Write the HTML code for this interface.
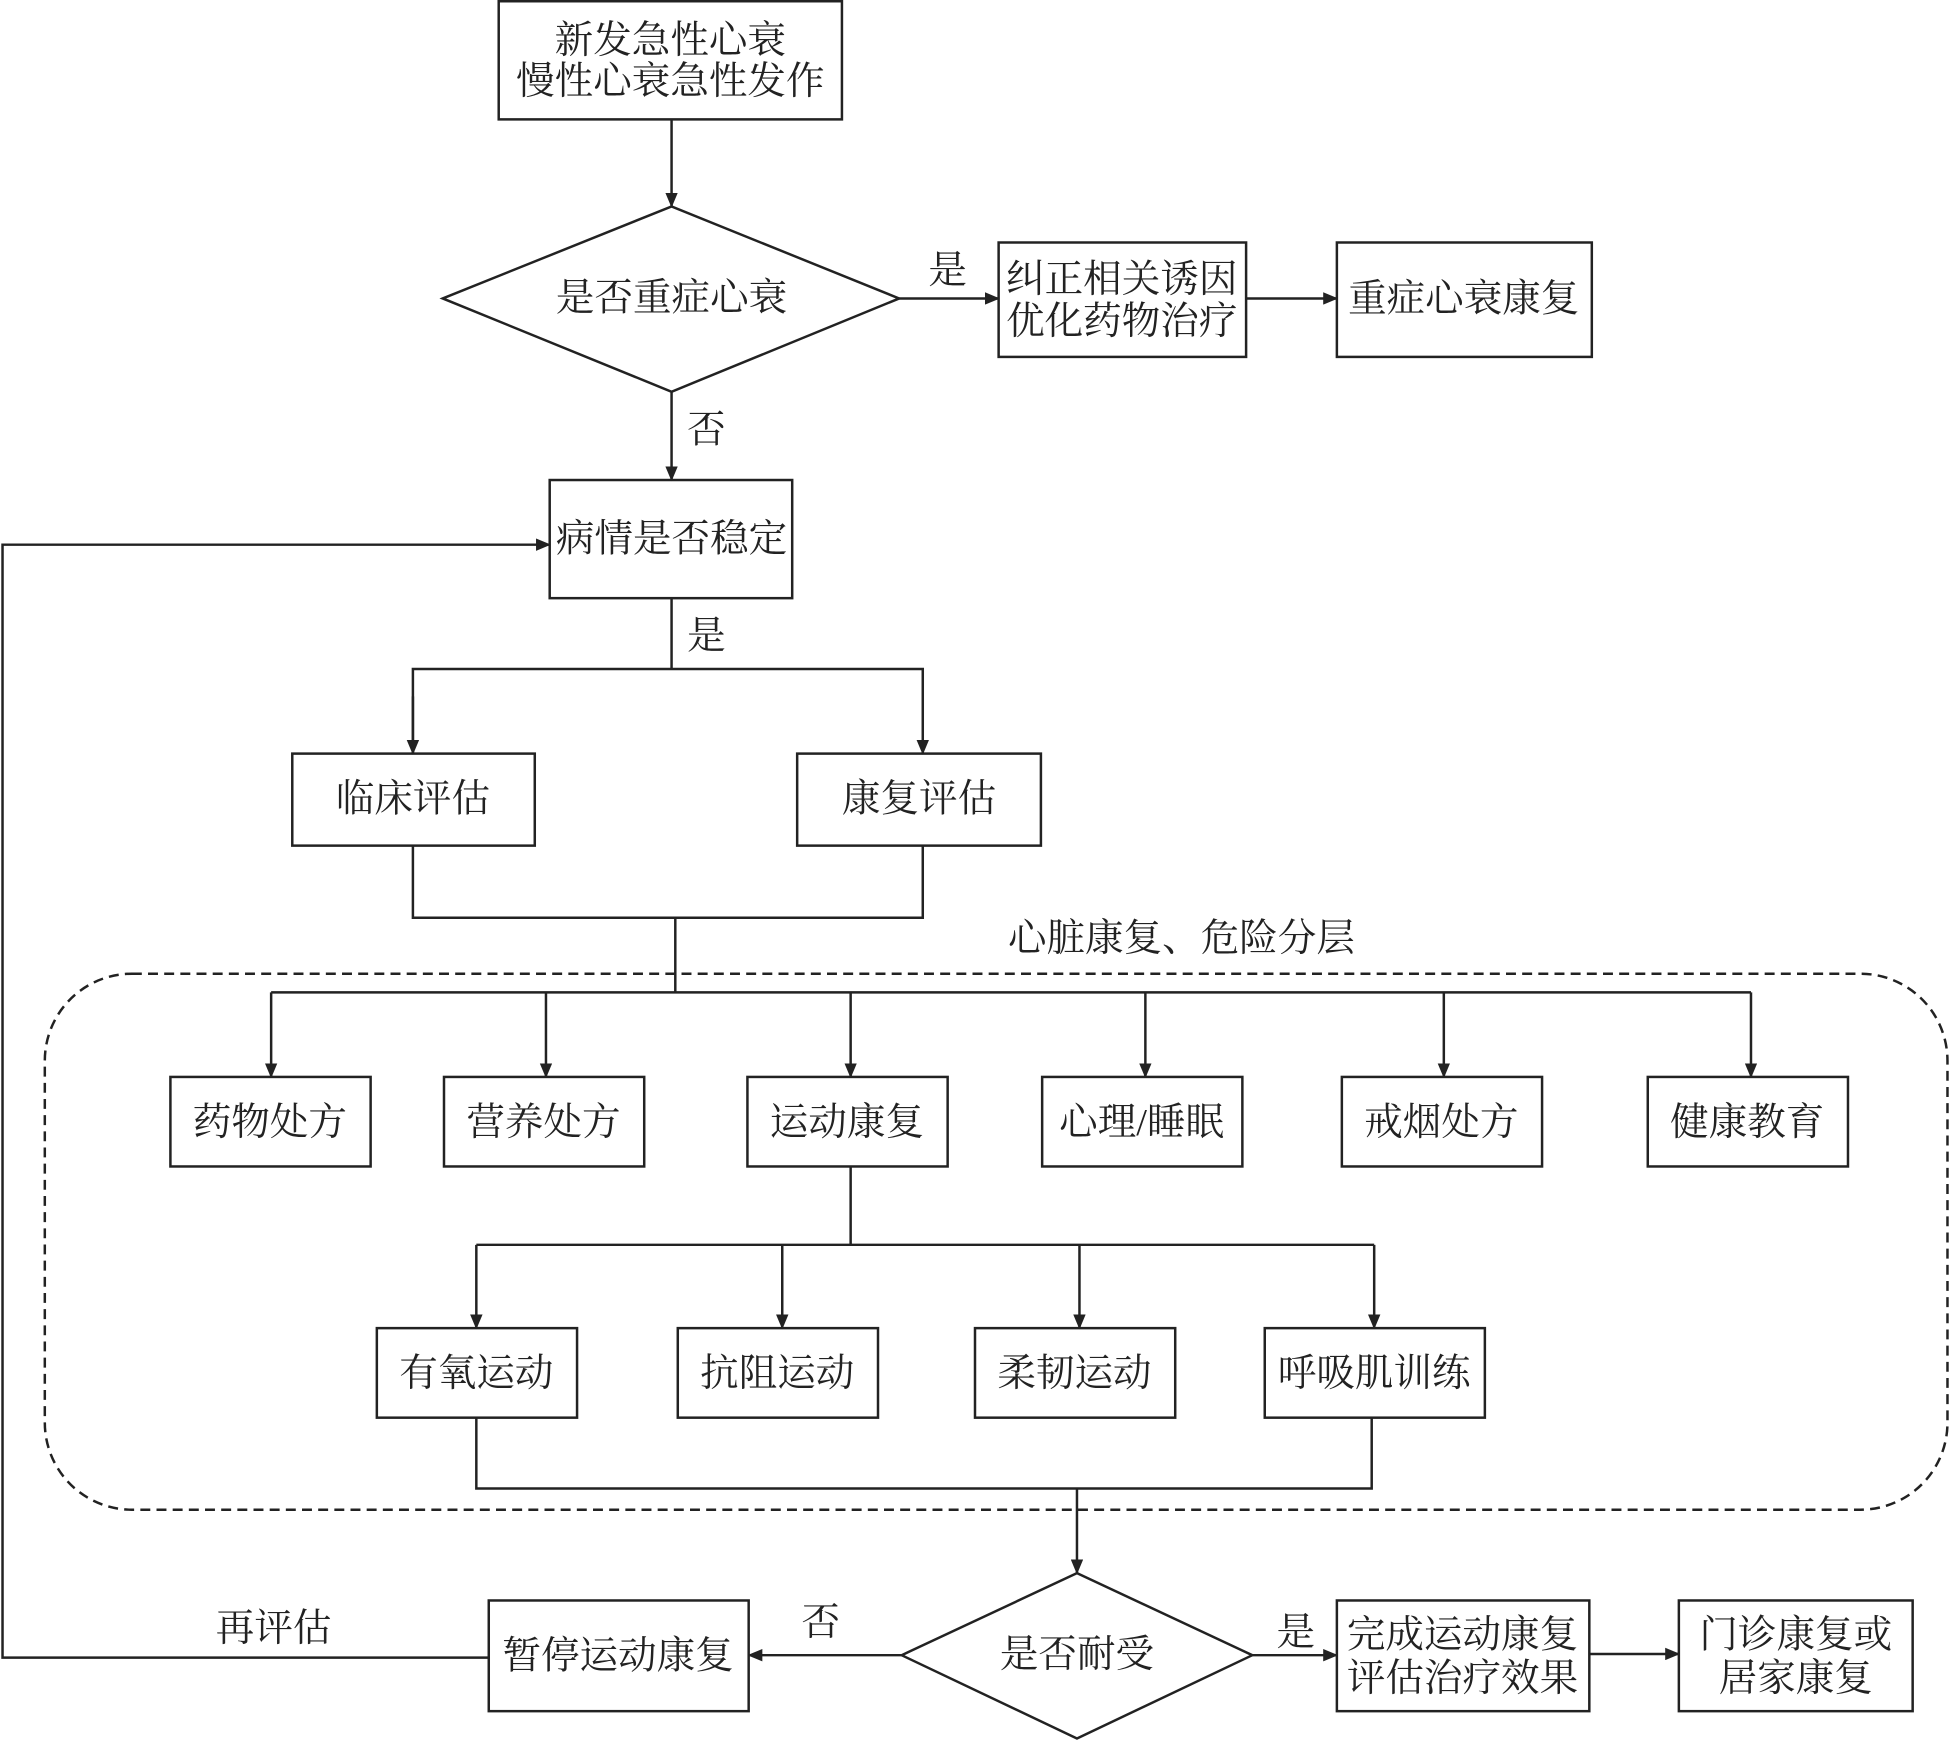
<!DOCTYPE html>
<html><head><meta charset="utf-8"><style>
html,body{margin:0;padding:0;background:#fff;}
svg{display:block;}
text{font-family:"Liberation Serif","Noto Serif CJK SC",serif;font-size:31px;fill:#222;text-anchor:middle;dominant-baseline:central;}
</style></head><body>
<svg width="1950" height="1741" viewBox="0 0 1568 1400" xmlns="http://www.w3.org/2000/svg">
<defs><marker id="a" markerWidth="12" markerHeight="10" refX="11" refY="5" orient="auto" markerUnits="userSpaceOnUse"><path d="M0,0 L12,5 L0,10 z" fill="#222"/></marker></defs>
<g fill="none" stroke="#222" stroke-width="2">
<rect x="401" y="1" width="276" height="95"/>
<line x1="540" y1="96" x2="540" y2="166" marker-end="url(#a)"/>
<polygon points="356,240 540,166 723,240 540,315"/>
<line x1="723" y1="240" x2="803" y2="240" marker-end="url(#a)"/>
<rect x="803" y="195" width="199" height="92"/>
<line x1="1002" y1="240" x2="1075" y2="240" marker-end="url(#a)"/>
<rect x="1075" y="195" width="205" height="92"/>
<line x1="540" y1="315" x2="540" y2="386" marker-end="url(#a)"/>
<rect x="442" y="386" width="195" height="95"/>
<polyline points="540,481 540,538"/>
<polyline points="332,606 332,538 742,538 742,606" marker-end="url(#a)"/>
<line x1="332" y1="560" x2="332" y2="606" marker-end="url(#a)"/>
<rect x="235" y="606" width="195" height="74"/>
<rect x="641" y="606" width="196" height="74"/>
<polyline points="332,680 332,738 742,738 742,680"/>
<line x1="543" y1="738" x2="543" y2="798"/>
<rect x="36" y="783" width="1530" height="431" rx="70" stroke-dasharray="8,5"/>
<line x1="218" y1="798" x2="1408" y2="798"/>
<line x1="218" y1="798" x2="218" y2="866" marker-end="url(#a)"/>
<line x1="439" y1="798" x2="439" y2="866" marker-end="url(#a)"/>
<line x1="684" y1="798" x2="684" y2="866" marker-end="url(#a)"/>
<line x1="921" y1="798" x2="921" y2="866" marker-end="url(#a)"/>
<line x1="1161" y1="798" x2="1161" y2="866" marker-end="url(#a)"/>
<line x1="1408" y1="798" x2="1408" y2="866" marker-end="url(#a)"/>
<rect x="137" y="866" width="161" height="72"/>
<rect x="357" y="866" width="161" height="72"/>
<rect x="601" y="866" width="161" height="72"/>
<rect x="838" y="866" width="161" height="72"/>
<rect x="1079" y="866" width="161" height="72"/>
<rect x="1325" y="866" width="161" height="72"/>
<line x1="684" y1="938" x2="684" y2="1001"/>
<line x1="383" y1="1001" x2="1105" y2="1001"/>
<line x1="383" y1="1001" x2="383" y2="1068" marker-end="url(#a)"/>
<line x1="629" y1="1001" x2="629" y2="1068" marker-end="url(#a)"/>
<line x1="868" y1="1001" x2="868" y2="1068" marker-end="url(#a)"/>
<line x1="1105" y1="1001" x2="1105" y2="1068" marker-end="url(#a)"/>
<rect x="303" y="1068" width="161" height="72"/>
<rect x="545" y="1068" width="161" height="72"/>
<rect x="784" y="1068" width="161" height="72"/>
<rect x="1017" y="1068" width="177" height="72"/>
<polyline points="383,1140 383,1197 1103,1197 1103,1140"/>
<line x1="866" y1="1197" x2="866" y2="1265" marker-end="url(#a)"/>
<polygon points="725,1331 866,1265 1007,1331 866,1398"/>
<line x1="725" y1="1331" x2="602" y2="1331" marker-end="url(#a)"/>
<rect x="393" y="1287" width="209" height="89"/>
<polyline points="393,1333 2,1333 2,438 442,438" marker-end="url(#a)"/>
<line x1="1007" y1="1331" x2="1075" y2="1331" marker-end="url(#a)"/>
<rect x="1075" y="1287" width="203" height="89"/>
<line x1="1278" y1="1330" x2="1350" y2="1330" marker-end="url(#a)"/>
<rect x="1350" y="1287" width="188" height="89"/>
</g>
<text x="539" y="33">新发急性心衰</text>
<text x="539" y="66">慢性心衰急性发作</text>
<text x="540" y="240">是否重症心衰</text>
<text x="762" y="218">是</text>
<text x="902" y="225">纠正相关诱因</text>
<text x="902" y="259">优化药物治疗</text>
<text x="1177" y="241">重症心衰康复</text>
<text x="568" y="346">否</text>
<text x="540" y="434">病情是否稳定</text>
<text x="568" y="512">是</text>
<text x="332" y="643">临床评估</text>
<text x="739" y="643">康复评估</text>
<text x="950" y="755">心脏康复、危险分层</text>
<text x="217" y="903">药物处方</text>
<text x="437" y="903">营养处方</text>
<text x="681" y="903">运动康复</text>
<text x="918" y="903">心理/睡眠</text>
<text x="1159" y="903">戒烟处方</text>
<text x="1405" y="903">健康教育</text>
<text x="383" y="1105">有氧运动</text>
<text x="625" y="1105">抗阻运动</text>
<text x="864" y="1105">柔韧运动</text>
<text x="1105" y="1105">呼吸肌训练</text>
<text x="866" y="1331">是否耐受</text>
<text x="660" y="1305">否</text>
<text x="497" y="1332">暂停运动康复</text>
<text x="220" y="1310">再评估</text>
<text x="1042" y="1313">是</text>
<text x="1176" y="1315">完成运动康复</text>
<text x="1176" y="1350">评估治疗效果</text>
<text x="1444" y="1315">门诊康复或</text>
<text x="1444" y="1350">居家康复</text>
</svg>
</body></html>
